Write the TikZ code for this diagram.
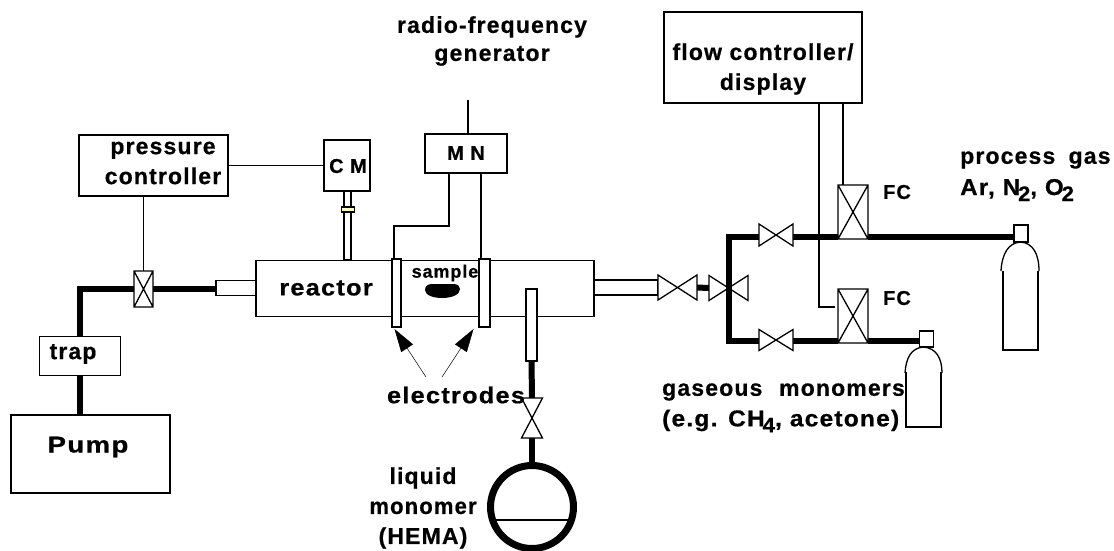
\documentclass[tikz,border=0pt]{standalone}
\usepackage{fontspec}
\setmainfont[LetterSpace=5,BoldFeatures={FakeBold=0.6}]{Liberation Sans}
\usetikzlibrary{arrows.meta}
\newcommand{\subdig}[1]{\kern-2pt\raisebox{-6pt}{\fontsize{21}{21}\selectfont #1}}
\newcommand{\sx}[2]{\scalebox{#1}[1]{#2}}
\newcommand{\bowtieH}[1]{\draw[valveline] (#1.north west)--(#1.south west)--(#1.north east)--(#1.south east)--cycle;}
\newcommand{\bowtieV}[1]{\draw[valveline] (#1.north west)--(#1.north east)--(#1.south west)--(#1.south east)--cycle;}
\newcommand{\crossbox}[1]{\draw[valveline] (#1.north west) rectangle (#1.south east) (#1.north west)--(#1.south east) (#1.north east)--(#1.south west);}
\tikzset{
  box/.style={draw=black,line width=1.3pt,fill=white,inner sep=0pt,outer sep=0pt},
  blank/.style={inner sep=0pt,outer sep=0pt},
  valveline/.style={draw=black,line width=1.3pt,fill=white,line join=miter},
  pipe/.style={draw=black,line width=6pt,line cap=butt,line join=miter},
  wire/.style={draw=black,line width=1.1pt},
  lab/.style={font=\fontsize{23}{30}\selectfont\bfseries,align=center,inner sep=0pt},
  smalllab/.style={lab,font=\fontsize{20}{22}\selectfont\bfseries},
  labl/.style={lab,align=left,anchor=west},
  pointer/.style={draw=black,line width=0.5pt,-{Triangle[length=23pt,width=14pt]}},
  gascyl/.style={draw=black,line width=1.3pt}
}
\begin{document}
\begin{tikzpicture}[x=1pt,y=-1pt]
\useasboundingbox (0,0) rectangle (1114,550);
% reactor and tubes
\node[box,minimum width=338pt,minimum height=56pt] (reactor) at (425,288.5) {};
\node[box,minimum width=40pt,minimum height=15pt] (stubL) at (236,288) {};
\node[box,minimum width=64pt,minimum height=15pt] (stubR) at (626,287.5) {};
\node[box,minimum width=46pt,minimum height=51pt] (cm) at (347,165.5) {};
\node[box,minimum width=7pt,minimum height=69pt] (cmtube) at (347.5,225.5) {};
\node[box,fill=yellow!25,minimum width=13pt,minimum height=5pt] (cmflange) at (348,209.5) {};
\node[box,minimum width=149pt,minimum height=61pt] (pc) at (153.5,165.5) {};
\node[box,minimum width=81pt,minimum height=39pt] (trap) at (80,356) {};
\node[box,minimum width=159pt,minimum height=78pt] (pump) at (90.5,454) {};
\node[box,minimum width=82pt,minimum height=39pt] (mn) at (466,153.5) {};
\node[box,minimum width=198pt,minimum height=91pt] (fcd) at (763,57.5) {};
\node[box,minimum width=9pt,minimum height=68pt] (el1) at (396.5,293) {};
\node[box,minimum width=11pt,minimum height=68pt] (el2) at (484.5,293) {};
\node[box,minimum width=11pt,minimum height=72pt] (lt) at (531.5,325) {};
% valves
\node[blank,minimum width=19pt,minimum height=36pt] (v1) at (143.5,289) {};
\node[blank,minimum width=39pt,minimum height=25pt] (v2) at (677.5,287.5) {};
\node[blank,minimum width=39pt,minimum height=25pt] (v3) at (728.5,288) {};
\node[blank,minimum width=34pt,minimum height=22pt] (v4) at (776,235) {};
\node[blank,minimum width=34pt,minimum height=21pt] (v5) at (776,340) {};
\node[blank,minimum width=21pt,minimum height=40pt] (v6) at (532,418) {};
\node[blank,minimum width=30pt,minimum height=54pt] (fc1) at (853,212) {};
\node[blank,minimum width=30pt,minimum height=54pt] (fc2) at (853,316) {};
\coordinate (pipecorner) at (80,289);
\coordinate (vtop) at (729,237);
\coordinate (vbot) at (729,341);
\coordinate (neck1) at (1014,237);
\coordinate (neck2) at (920,341);
\coordinate (flasktop) at (532,464);
\coordinate (mntop) at (468,100);
\coordinate (k1) at (394,226);
\coordinate (k2) at (449,226);
\coordinate (k3) at (481,226);
\coordinate (k4) at (819,307);
\coordinate (k5) at (843,150);
% thick pipes
\draw[pipe] (trap.north -| pipecorner) -- (pipecorner) -- (v1.west |- pipecorner);
\draw[pipe] (v1.east |- pipecorner) -- (stubL.west |- pipecorner);
\draw[pipe] (trap.south) -- (pump.north -| trap.south);
\draw[pipe] (lt.south) -- (v6.north);
\draw[pipe] (v6.south) -- (flasktop);
\draw[pipe] (v2.east) -- (v3.west);
\draw[pipe] (v4.east |- vtop) -- (fc1.west |- vtop);
\draw[pipe] (v5.east |- vbot) -- (fc2.west |- vbot);
\draw[pipe] (fc1.east |- vtop) -- (neck1);
\draw[pipe] (fc2.east |- vbot) -- (neck2);
% valves on top
\crossbox{v1}
\bowtieH{v2}
\bowtieH{v3}
\bowtieH{v4}
\bowtieH{v5}
\bowtieV{v6}
\draw[pipe,line width=6.5pt] (v4.west |- vtop) -- (vtop) -- (vbot) -- (v5.west |- vbot);
\crossbox{fc1}
\crossbox{fc2}
% wires
\draw[wire] (pc.east |- cm.west) -- (cm.west);
\draw[wire] (pc.south -| v1.north) -- (v1.north);
\draw[wire] (mntop |- mn.north) -- (mntop);
\draw[wire] (k1 |- el1.north) -- (k1) -- (k2) -- (k2 |- mn.south);
\draw[wire] (k3 |- el2.north) -- (k3 |- mn.south);
\draw[wire,shorten >=3pt] (k4 |- fcd.south) -- (k4) -- (fc2.west |- k4);
\draw[wire] (k5 |- fcd.south) -- (k5 |- fc1.north);
% sample and electrode arrows
\fill[black] (425,290) .. controls (425,286) and (428,284) .. (432,284) -- (453,284) .. controls (458,284) and (460,286) .. (460,289) .. controls (460,295) and (451,298) .. (442,298) .. controls (433,298) and (425,295) .. (425,290) -- cycle;
\coordinate (a1) at (426,377);
\coordinate (a2) at (442,377);
\coordinate (a1t) at (394.5,329);
\coordinate (a2t) at (473.5,329);
\draw[pointer] (a1) -- (a1t);
\draw[pointer] (a2) -- (a2t);
% flask
\node[circle,draw=black,line width=7pt,minimum size=83pt,inner sep=0pt,outer sep=0pt] (flask) at (532,507) {};
\coordinate (f1) at (493,520);
\coordinate (f2) at (570,520);
\draw[wire] (f1) -- (f2);
% cylinders
\node[box,minimum width=14pt,minimum height=17pt] (neckA) at (1021,233.5) {};
\node[box,minimum width=14pt,minimum height=16pt] (neckB) at (926.5,339) {};
\draw[gascyl] (1001,271) .. controls (1002,254) and (1008,243) .. (1020.5,242) .. controls (1033,243) and (1039,254) .. (1039,271);
\draw[gascyl] (1003,271) -- (1003,350) -- (1038,350) -- (1038,271);
\draw[gascyl] (905,373) .. controls (906,358) and (911,348) .. (923.5,347) .. controls (936,348) and (942,358) .. (942,373);
\draw[gascyl] (906,372) -- (906,427) -- (941,427) -- (941,372);
% labels
\node[lab] (t1) at (492,41) {radio-frequency\\[-2pt]generator};
\node[lab] (t2) at (763,69) {flow controller/\\display};
\node[lab] (t3) at (163,163) {pressure\\controller};
\node[smalllab] (t4) at (348,166) {C M};
\node[smalllab] (t5) at (466,153) {M N};
\node[lab] (t6) at (326,288) {\sx{1.1}{reactor}};
\node[lab,font=\fontsize{18}{20}\selectfont\bfseries] (t7) at (445,273) {sample};
\node[lab] (t8) at (73,354) {trap};
\node[lab] (t9) at (88,447) {\sx{1.2}{Pump}};
\node[lab] (t10) at (456,395) {\sx{1.1}{electrodes}};
\node[lab,text width=110pt] (t11) at (423,508) {liquid\\\sx{0.96}{monomer}\\(HEMA)};
\node[smalllab] (t12) at (897,192) {FC};
\node[smalllab] (t13) at (897,298) {FC};
\node[labl] (t14) at (960,160) {process\hspace{0.25em} gas};
\node[labl] (t15) at (960,190) {\sx{1.05}{Ar, N\subdig{2}, O\subdig{2}}};
\node[labl] (t16) at (662,392) {gaseous\hspace{0.4em} monomers};
\node[labl] (t17) at (662,421) {\sx{1.065}{(e.g. CH\subdig{4}, acetone)}};
\end{tikzpicture}
\end{document}
